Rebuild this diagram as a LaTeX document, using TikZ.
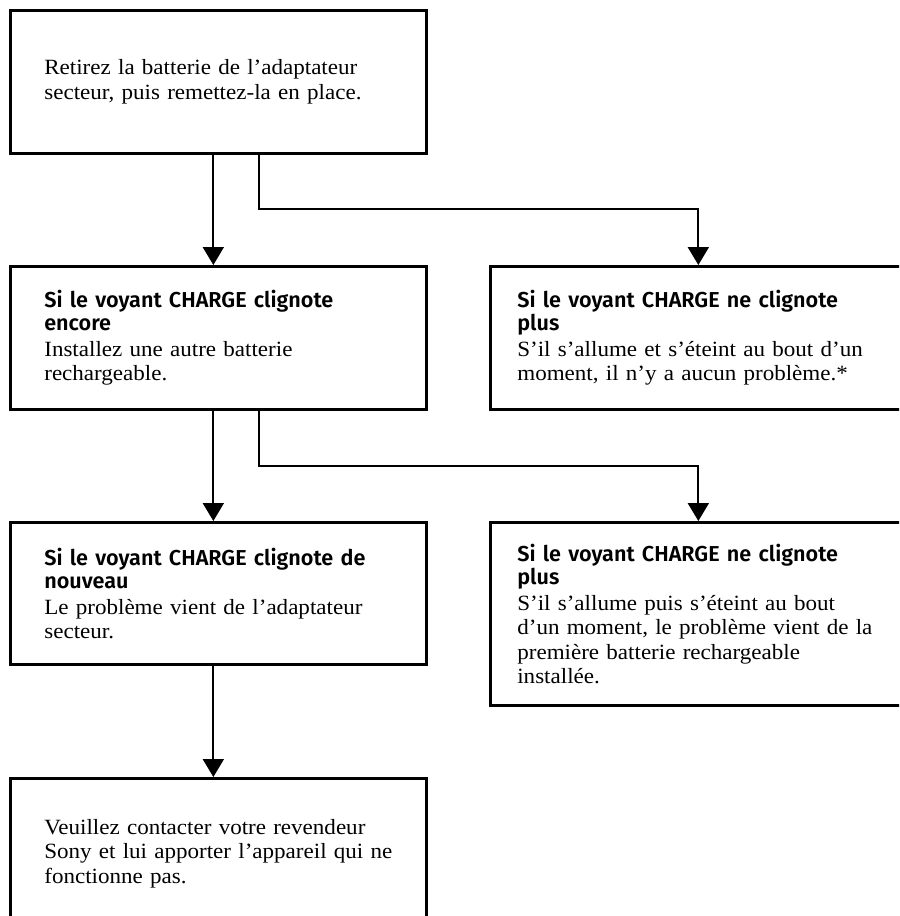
\documentclass[tikz,border=0pt]{standalone}
\usepackage{fontspec}
\setmainfont{Liberation Serif}[FakeStretch=1.06]
\newfontfamily\headfont{Fira Sans SemiBold}
\usetikzlibrary{arrows.meta}
\newcommand\bodyfont{\fontsize{16.3}{18.4}\selectfont}
\newcommand\hd{\headfont\fontsize{16.2}{18.4}\selectfont}
\newcommand\lineb[1]{\mbox{#1}}
\tikzset{
 box/.style={draw, line width=2pt, anchor=north west, minimum width=312pt,
   text width=261pt, inner xsep=25.5pt, inner ysep=0pt, align=left, font=\bodyfont},
 rbox/.style={box, text width=271.5pt, inner xsep=20.25pt},
 arr/.style={line width=1.5pt, -{Triangle[width=15.75pt,length=13.5pt]}},
}
\begin{document}
\begin{tikzpicture}[x=0.75pt,y=-0.75pt]
\path[use as bounding box] (0,0) rectangle (899,916);
\clip (0,0) rectangle (899,916);
\node[box, minimum height=107.25pt] (b1) at (9,9)
 {\lineb{Retirez la batterie de l’adaptateur}\\
  \lineb{secteur, puis remettez-la en place.}};
\node[box, minimum height=107.25pt] (b2) at (9,265)
 {{\hd\lineb{Si le voyant CHARGE clignote}}\\[-1.15pt]
  {\hd encore}\\[1.1pt]
  \lineb{Installez une autre batterie}\\
  rechargeable.};
\node[rbox, minimum height=107.25pt] (b3) at (489,265)
 {{\hd\lineb{Si le voyant CHARGE ne clignote}}\\[-1.15pt]
  {\hd plus}\\[1.1pt]
  \lineb{S’il s’allume et s’éteint au bout d’un}\\
  \lineb{moment, il n’y a aucun problème.*}};
\node[box, minimum height=106.5pt] (b4) at (9,521)
 {{\hd\lineb{Si le voyant CHARGE clignote de}}\\[-1.15pt]
  {\hd nouveau}\\[1.1pt]
  \lineb{Le problème vient de l’adaptateur}\\
  secteur.};
\node[rbox, minimum height=137.25pt] (b5) at (489,521)
 {{\hd\lineb{Si le voyant CHARGE ne clignote}}\\[-1.15pt]
  {\hd plus}\\[1.1pt]
  \lineb{S’il s’allume puis s’éteint au bout}\\
  \lineb{d’un moment, le problème vient de la}\\
  \lineb{première batterie rechargeable}\\
  installée.};
\node[box, minimum height=112.5pt] (b6) at (9,777)
 {\lineb{Veuillez contacter votre revendeur}\\
  \lineb{Sony et lui apporter l’appareil qui ne}\\
  \lineb{fonctionne pas.}};
\draw[arr] ([xshift=-3.75pt]b1.south) -- ([xshift=-3.75pt]b2.north);
\draw[arr] ([xshift=30.75pt]b1.south) -- ++(0,54) -| (b3.north);
\draw[arr] ([xshift=-3.75pt]b2.south) -- ([xshift=-3.75pt]b4.north);
\draw[arr] ([xshift=30.75pt]b2.south) -- ++(0,55) -| (b5.north);
\draw[arr] ([xshift=-3.75pt]b4.south) -- ([xshift=-3.75pt]b6.north);
\end{tikzpicture}
\end{document}
